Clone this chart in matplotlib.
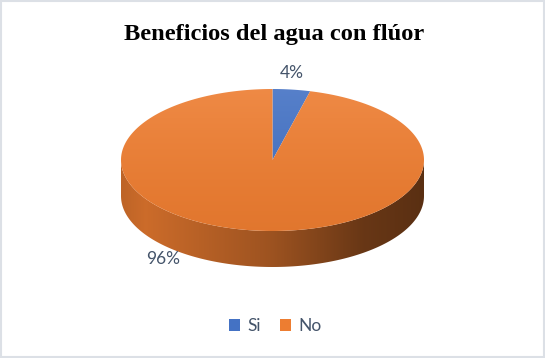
import numpy as np
import matplotlib
matplotlib.use("Agg")
import matplotlib.pyplot as plt
from matplotlib.patches import Polygon, Rectangle, Patch
from matplotlib.colors import to_rgb

# ---- data ----
categories = ["Si", "No"]
values = [4, 96]
title = "Beneficios del agua con flúor"
colors = ["#4472C4", "#ED7D31"]

W, H = 545, 358
fig = plt.figure(figsize=(W / 100, H / 100), dpi=100)
ax = fig.add_axes([0, 0, 1, 1])
ax.set_xlim(0, W)
ax.set_ylim(H, 0)
ax.axis("off")

# geometry (pixels)
cx, cy, a, b, depth = 272.5, 160.0, 151.5, 71.0, 36.0

def ell(t_deg, dy=0.0):
    t = np.radians(t_deg)
    return cx + a * np.cos(t), cy - b * np.sin(t) + dy

total = float(sum(values))
angles = []
start = 90.0
for v in values:
    sweep = 360.0 * v / total
    angles.append((start, start - sweep))
    start -= sweep

def mix(c, f, white=0.0):
    c = np.array(to_rgb(c))
    c = c * f
    return np.clip(c * (1 - white) + white, 0, 1)

# ---- side walls (front half) ----
xs_img = np.linspace(0, 1, 300)
stops_x = [0.0, 0.08, 0.5, 0.8, 1.0]
stops_f = [0.80, 0.86, 0.66, 0.44, 0.38]
for (s, e), col in zip(angles, colors):
    for k in range(-2, 2):
        lo = max(e, -180 + 360 * k)
        hi = min(s, 0 + 360 * k)
        if hi - lo <= 0.01:
            continue
        ts = np.linspace(hi, lo, 200)
        top = [ell(t) for t in ts]
        bot = [ell(t, depth) for t in ts[::-1]]
        poly = Polygon(top + bot, closed=True, transform=ax.transData,
                       facecolor="none", edgecolor="none")
        ax.add_patch(poly)
        f = np.interp(xs_img, stops_x, stops_f)
        img = np.array([mix(col, fi) for fi in f])[None, :, :]
        im = ax.imshow(img, extent=(cx - a, cx + a, cy + depth + b + 2, cy - 2),
                       aspect="auto", interpolation="bilinear", zorder=1)
        im.set_clip_path(poly)

# ---- top faces ----
ys_img = np.linspace(0, 1, 200)
for (s, e), col in zip(angles, colors):
    ts = np.linspace(s, e, 400)
    pts = [(cx, cy)] + [ell(t) for t in ts]
    poly = Polygon(pts, closed=True, transform=ax.transData,
                   facecolor="none", edgecolor="none")
    ax.add_patch(poly)
    rows = []
    for yv in ys_img:
        white = 0.10 * (1 - yv) ** 1.5
        f = 1.0 - 0.05 * yv
        rows.append(mix(col, f, white))
    img = np.array(rows)[:, None, :]
    im = ax.imshow(img, extent=(cx - a - 1, cx + a + 1, cy + b + 1, cy - b - 1),
                   aspect="auto", interpolation="bilinear", zorder=2)
    im.set_clip_path(poly)

ax.set_xlim(0, W)
ax.set_ylim(H, 0)

# ---- data labels ----
label_pos = [(292, 72.5), (163.5, 258.5)]
for v, (lx, ly) in zip(values, label_pos):
    ax.text(lx, ly, f"{v:.0f}%", ha="center", va="center", fontsize=12.5,
            family="Lato", color="#44546A", zorder=5)

# ---- title ----
ax.text(274, 40, title, ha="center", va="baseline", fontsize=17.6,
        family="Liberation Serif", fontweight="bold", color="black", zorder=5)

# ---- legend ----
handles = [Patch(facecolor=c, edgecolor="none", label=n) for c, n in zip(colors, categories)]
leg = ax.legend(handles=handles, loc="center", bbox_to_anchor=(275 / W, 1 - 326 / H),
                ncol=2, frameon=False, handlelength=0.65, handleheight=0.65,
                handletextpad=0.4, columnspacing=1.1,
                prop={"family": "Lato", "size": 12.5})
for t in leg.get_texts():
    t.set_color("#44546A")

# ---- border ----
ax.add_patch(Rectangle((1, 1), W - 2.5, H - 2.5, facecolor="none",
                       edgecolor="#DCE0E6", linewidth=1.5, zorder=10))

fig.savefig("out.png", dpi=100, facecolor="white")
